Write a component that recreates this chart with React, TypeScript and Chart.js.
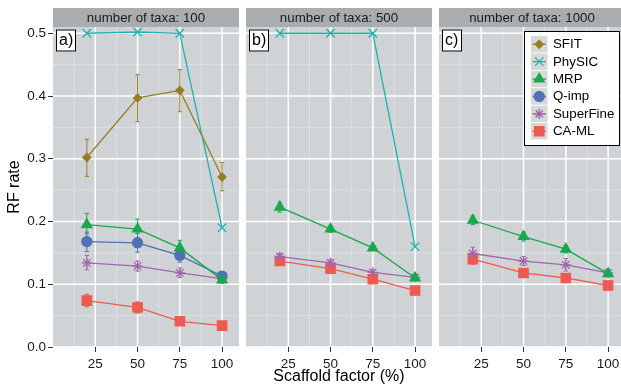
import React, { useEffect, useRef } from 'react';
import { Chart, registerables } from 'chart.js';
import { drawPoint } from 'chart.js/helpers';

Chart.register(...registerables);

const FONT = "'Liberation Sans', Arial, Helvetica, sans-serif";

// ---- data ----
const xValues = [20, 50, 75, 100];
const xTicks = [25, 50, 75, 100];
const xMinor = [12.5, 37.5, 62.5, 87.5];
const yTicks = [0, 0.1, 0.2, 0.3, 0.4, 0.5];
const yMinor = [0.05, 0.15, 0.25, 0.35, 0.45];

const panelTitles = ['number of taxa: 100', 'number of taxa: 500', 'number of taxa: 1000'];
const panelTags = ['a)', 'b)', 'c)'];

const seriesNames = ['SFIT', 'PhySIC', 'MRP', 'Q-imp', 'SuperFine', 'CA-ML'];
const seriesColors = ['#9a7c25', '#1fb3b3', '#19a84c', '#5170b5', '#a265aa', '#ef5a50'];
const seriesShapes = ['rectRot', 'crossRot', 'triangle', 'circle', 'star', 'rect'];
const seriesRadius = [4, 6, 5.8, 5, 5.2, 6.6];

// panel a: 100 taxa
const sfit100 = [0.302, 0.397, 0.409, 0.271];
const sfit100Lo = [0.272, 0.359, 0.375, 0.249];
const sfit100Hi = [0.331, 0.434, 0.442, 0.294];
const physic100 = [0.5, 0.502, 0.5, 0.19];
const mrp100 = [0.195, 0.188, 0.158, 0.107];
const mrp100Lo = [0.18, 0.174, 0.147, 0.102];
const mrp100Hi = [0.213, 0.204, 0.17, 0.112];
const qimp100 = [0.168, 0.166, 0.146, 0.113];
const qimp100Lo = [0.152, 0.151, 0.135, 0.108];
const qimp100Hi = [0.183, 0.181, 0.158, 0.118];
const superfine100 = [0.134, 0.129, 0.118, 0.109];
const superfine100Lo = [0.123, 0.121, 0.111, 0.105];
const superfine100Hi = [0.146, 0.137, 0.126, 0.113];
const caml100 = [0.074, 0.063, 0.041, 0.034];
const caml100Lo = [0.064, 0.054, 0.038, 0.031];
const caml100Hi = [0.084, 0.072, 0.045, 0.037];

// panel b: 500 taxa
const physic500 = [0.5, 0.5, 0.5, 0.16];
const mrp500 = [0.223, 0.188, 0.158, 0.11];
const mrp500Lo = [0.215, 0.183, 0.154, 0.107];
const mrp500Hi = [0.231, 0.193, 0.162, 0.113];
const superfine500 = [0.144, 0.134, 0.119, 0.111];
const superfine500Lo = [0.139, 0.129, 0.115, 0.107];
const superfine500Hi = [0.149, 0.139, 0.123, 0.115];
const caml500 = [0.137, 0.125, 0.108, 0.09];
const caml500Lo = [0.133, 0.121, 0.104, 0.086];
const caml500Hi = [0.141, 0.129, 0.112, 0.094];

// panel c: 1000 taxa
const mrp1000 = [0.202, 0.176, 0.156, 0.117];
const mrp1000Lo = [0.195, 0.169, 0.15, 0.113];
const mrp1000Hi = [0.209, 0.183, 0.162, 0.121];
const superfine1000 = [0.149, 0.137, 0.131, 0.118];
const superfine1000Lo = [0.139, 0.13, 0.121, 0.112];
const superfine1000Hi = [0.159, 0.144, 0.141, 0.124];
const caml1000 = [0.14, 0.118, 0.11, 0.098];
const caml1000Lo = [0.132, 0.112, 0.103, 0.091];
const caml1000Hi = [0.148, 0.124, 0.117, 0.105];

type S = { idx: number; vals: number[]; lo?: number[]; hi?: number[] };

const panels: S[][] = [
  [
    { idx: 0, vals: sfit100, lo: sfit100Lo, hi: sfit100Hi },
    { idx: 1, vals: physic100 },
    { idx: 2, vals: mrp100, lo: mrp100Lo, hi: mrp100Hi },
    { idx: 3, vals: qimp100, lo: qimp100Lo, hi: qimp100Hi },
    { idx: 4, vals: superfine100, lo: superfine100Lo, hi: superfine100Hi },
    { idx: 5, vals: caml100, lo: caml100Lo, hi: caml100Hi },
  ],
  [
    { idx: 1, vals: physic500 },
    { idx: 2, vals: mrp500, lo: mrp500Lo, hi: mrp500Hi },
    { idx: 4, vals: superfine500, lo: superfine500Lo, hi: superfine500Hi },
    { idx: 5, vals: caml500, lo: caml500Lo, hi: caml500Hi },
  ],
  [
    { idx: 2, vals: mrp1000, lo: mrp1000Lo, hi: mrp1000Hi },
    { idx: 4, vals: superfine1000, lo: superfine1000Lo, hi: superfine1000Hi },
    { idx: 5, vals: caml1000, lo: caml1000Lo, hi: caml1000Hi },
  ],
];

const canvasLeft = [0, 246, 439];
const canvasWidth = [239, 186, 186];
const H = 386;

function makePanelPlugin(p: number) {
  return {
    id: 'panel' + p,
    beforeDraw(chart: any) {
      const { ctx, chartArea: a, scales } = chart;
      const xs = scales.x, ys = scales.y;
      ctx.save();
      // strip
      ctx.fillStyle = '#a9adaf';
      ctx.fillRect(a.left, 8, a.right - a.left, a.top - 8);
      ctx.fillStyle = '#1a1a1a';
      ctx.font = `13.3px ${FONT}`;
      ctx.textAlign = 'center';
      ctx.textBaseline = 'middle';
      ctx.fillText(panelTitles[p], (a.left + a.right) / 2, (8 + a.top) / 2 + 0.5);
      // background
      ctx.fillStyle = '#cfd3d5';
      ctx.fillRect(a.left, a.top, a.right - a.left, a.bottom - a.top);
      // minor grid
      ctx.strokeStyle = '#e1e4e5';
      ctx.lineWidth = 0.8;
      ctx.beginPath();
      xMinor.forEach((v) => {
        const x = xs.getPixelForValue(v);
        ctx.moveTo(x, a.top);
        ctx.lineTo(x, a.bottom);
      });
      yMinor.forEach((v) => {
        const y = ys.getPixelForValue(v);
        ctx.moveTo(a.left, y);
        ctx.lineTo(a.right, y);
      });
      ctx.stroke();
      // major grid
      ctx.strokeStyle = '#ffffff';
      ctx.lineWidth = 1.5;
      ctx.beginPath();
      xTicks.forEach((v) => {
        const x = xs.getPixelForValue(v);
        ctx.moveTo(x, a.top);
        ctx.lineTo(x, a.bottom);
      });
      yTicks.forEach((v) => {
        const y = ys.getPixelForValue(v);
        ctx.moveTo(a.left, y);
        ctx.lineTo(a.right, y);
      });
      ctx.stroke();
      // tag box
      const bx = a.left + 3, by = a.top + 2.5, bw = 20, bh = 22;
      ctx.fillStyle = '#ffffff';
      ctx.fillRect(bx, by, bw, bh);
      ctx.strokeStyle = '#000000';
      ctx.lineWidth = 1;
      ctx.strokeRect(bx + 0.5, by + 0.5, bw - 1, bh - 1);
      ctx.fillStyle = '#000000';
      ctx.font = `16px ${FONT}`;
      ctx.textAlign = 'left';
      ctx.textBaseline = 'middle';
      ctx.fillText(panelTags[p], bx + 3, by + bh / 2 + 0.5);
      ctx.restore();
    },
    beforeDatasetsDraw(chart: any) {
      const { ctx, scales } = chart;
      ctx.save();
      chart.data.datasets.forEach((ds: any, di: number) => {
        if (!ds.errLo) return;
        const meta = chart.getDatasetMeta(di);
        ctx.strokeStyle = ds.borderColor;
        ctx.lineWidth = 1;
        ctx.beginPath();
        meta.data.forEach((pt: any, i: number) => {
          const x = pt.x;
          const y1 = scales.y.getPixelForValue(ds.errLo[i]);
          const y2 = scales.y.getPixelForValue(ds.errHi[i]);
          ctx.moveTo(x, y1);
          ctx.lineTo(x, y2);
          ctx.moveTo(x - 2.2, y1);
          ctx.lineTo(x + 2.2, y1);
          ctx.moveTo(x - 2.2, y2);
          ctx.lineTo(x + 2.2, y2);
        });
        ctx.stroke();
      });
      ctx.restore();
    },
    afterDraw(chart: any) {
      if (p !== 2) return;
      const { ctx } = chart;
      const off = canvasLeft[2];
      ctx.save();
      const lx = 524 - off, ly = 31, lw = 96, lh = 115;
      ctx.fillStyle = '#ffffff';
      ctx.fillRect(lx, ly, lw, lh);
      ctx.strokeStyle = '#000000';
      ctx.lineWidth = 1;
      ctx.strokeRect(lx + 0.5, ly + 0.5, lw - 1, lh - 1);
      seriesNames.forEach((name, i) => {
        const cy = 44 + i * 17.4;
        const kx = 531 - off;
        ctx.fillStyle = '#d5d9da';
        ctx.fillRect(kx, cy - 8, 16.5, 16.5);
        ctx.strokeStyle = seriesColors[i];
        ctx.lineWidth = 1.3;
        ctx.beginPath();
        ctx.moveTo(kx + 1.5, cy + 0.25);
        ctx.lineTo(kx + 15, cy + 0.25);
        ctx.stroke();
        ctx.fillStyle = seriesColors[i];
        drawPoint(ctx, {
          pointStyle: seriesShapes[i],
          radius: seriesRadius[i],
          rotation: 0,
          borderWidth: 1.3,
        } as any, kx + 8.25, cy + 0.25);
        ctx.fillStyle = '#000000';
        ctx.font = `13.3px ${FONT}`;
        ctx.textAlign = 'left';
        ctx.textBaseline = 'middle';
        ctx.fillText(name, 553 - off, cy + 0.5);
      });
      ctx.restore();
    },
  };
}

function buildConfig(p: number): any {
  const datasets = panels[p].map((s) => ({
    label: seriesNames[s.idx],
    data: xValues.map((x, i) => ({ x, y: s.vals[i] })),
    borderColor: seriesColors[s.idx],
    backgroundColor: seriesColors[s.idx],
    pointBackgroundColor: seriesColors[s.idx],
    pointBorderColor: seriesColors[s.idx],
    pointStyle: seriesShapes[s.idx],
    pointRadius: seriesRadius[s.idx],
    pointBorderWidth: 1.3,
    borderWidth: 1.3,
    tension: 0,
    fill: false,
    clip: false,
    errLo: s.lo,
    errHi: s.hi,
  }));
  return {
    type: 'line',
    data: { datasets },
    options: {
      animation: false,
      responsive: false,
      maintainAspectRatio: false,
      events: [],
      layout: { autoPadding: false, padding: { top: 27, right: 0, bottom: 0, left: 0 } },
      plugins: { legend: { display: false }, tooltip: { enabled: false }, title: { display: false } },
      scales: {
        x: {
          type: 'linear',
          min: 0,
          max: 110,
          afterBuildTicks: (s: any) => {
            s.ticks = xTicks.map((v) => ({ value: v }));
          },
          afterFit: (s: any) => {
            s.height = 39;
          },
          grid: { drawOnChartArea: false, drawTicks: true, tickLength: 5, color: '#333333', lineWidth: 1 },
          border: { display: false },
          ticks: {
            color: '#1a1a1a',
            font: { size: 13.5, family: FONT },
            padding: 4,
            maxRotation: 0,
            autoSkip: false,
            callback: (v: any) => String(v),
          },
          title: {
            display: p === 1,
            text: 'Scaffold factor (%)',
            color: '#000000',
            font: { size: 16, family: FONT },
            padding: { top: 0, bottom: 0 },
          },
        },
        y: {
          type: 'linear',
          min: 0,
          max: 0.51,
          display: p === 0,
          afterBuildTicks: (s: any) => {
            s.ticks = yTicks.map((v) => ({ value: v }));
          },
          afterFit: (s: any) => {
            s.width = p === 0 ? 53 : 0;
          },
          grid: { drawOnChartArea: false, drawTicks: true, tickLength: 5, color: '#333333', lineWidth: 1 },
          border: { display: false },
          ticks: {
            color: '#1a1a1a',
            font: { size: 13.5, family: FONT },
            padding: 2,
            autoSkip: false,
            callback: (v: any) => Number(v).toFixed(1),
          },
          title: {
            display: true,
            text: 'RF rate',
            color: '#000000',
            font: { size: 16, family: FONT },
            padding: { top: 5, bottom: 0 },
          },
        },
      },
    },
    plugins: [makePanelPlugin(p)],
  };
}

function Panel({ p }: { p: number }) {
  const ref = useRef<HTMLCanvasElement | null>(null);
  useEffect(() => {
    if (!ref.current) return;
    const chart = new Chart(ref.current, buildConfig(p));
    return () => chart.destroy();
  }, [p]);
  return (
    <canvas
      ref={ref}
      width={canvasWidth[p]}
      height={H}
      style={{ position: 'absolute', left: canvasLeft[p], top: 0, width: canvasWidth[p], height: H, display: 'block' }}
    />
  );
}

export default function App() {
  return (
    <div
      style={{
        position: 'absolute',
        left: 0,
        top: 0,
        width: 621,
        height: H,
        overflow: 'hidden',
        background: '#ffffff',
      }}
    >
      <Panel p={0} />
      <Panel p={1} />
      <Panel p={2} />
    </div>
  );
}
